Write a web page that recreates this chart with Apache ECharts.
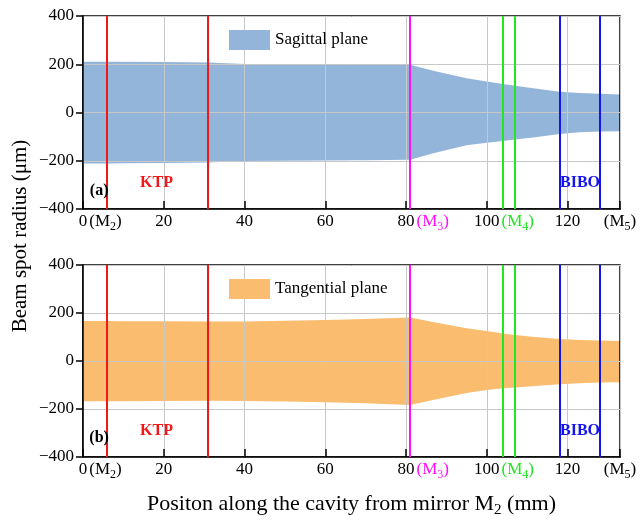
<!DOCTYPE html>
<html><head><meta charset="utf-8">
<script src="https://cdn.jsdelivr.net/npm/echarts@6/dist/echarts.min.js"></script>
<style>html,body{margin:0;padding:0;background:#fff}#c{width:640px;height:522px}</style>
</head><body><div id="c"></div>
<script>
// ---- data ----
const xPos     = [0, 6, 10, 20, 31, 40, 50, 60, 70, 81, 87, 95, 100, 104, 107, 112, 118, 123, 128, 133];
const sagUpper = [210, 210, 210, 209, 207, 201, 200, 200, 199, 198, 172, 142, 128, 118, 111, 100, 86, 81, 78, 75];
const sagLower = [-211, -211, -210, -209, -207, -201, -200, -199, -198, -196, -168, -136, -125, -118, -112, -103, -89, -82, -79, -78];
const tanUpper = [167, 167, 166, 166, 165, 165, 168, 171, 175, 181, 161, 136, 125, 115, 108, 100, 92, 88, 85, 83];
const tanLower = [-168, -168, -168, -167, -166, -167, -169, -172, -176, -183, -161, -133, -121, -114, -110, -104, -97, -93, -90, -89];
const mirrorX      = [6, 31, 81, 104, 107, 118, 128];
const mirrorGroup  = ['ktp', 'ktp', 'm3', 'm4', 'm4', 'bibo', 'bibo'];
const xTicks = [0, 20, 40, 60, 80, 100, 120];
const xMin = 0, xMax = 133, xStep = 20;
const yTicks = [-400, -200, 0, 200, 400];
const yMin = -400, yMax = 400, yStep = 200;
const seriesNames = ['Sagittal plane', 'Tangential plane'];
const panelTags = ['(a)', '(b)'];
const tagXY  = [[4.0, -323], [4.0, -321]];
const ktpXY  = [18.2, -291];
const biboXY = [123.1, -291];

// ---- style ----
const FONT = '"Liberation Serif", "Times New Roman", serif';
const fillColors = ['#93b5da', '#fabd6f'];
const lineColors = {ktp: '#f01818', m3: '#ff10ff', m4: '#22e622', bibo: '#1414ee'};
const grids = [
  {left: 83, top: 16, width: 537, height: 193, z: 3, show: true, borderColor: '#000', borderWidth: 1.5, backgroundColor: 'rgba(0,0,0,0)'},
  {left: 83, top: 265, width: 537, height: 192, z: 3, show: true, borderColor: '#000', borderWidth: 1.5, backgroundColor: 'rgba(0,0,0,0)'}
];

const subSuffix = {0: ['2', 'k'], 80: ['3', 'm'], 100: ['4', 'g']};
function xLabel(v) {
  if (Math.abs(v - xMax) < 0.01) return '{k|(M}{ks|5}{k|)}';
  const s = subSuffix[v];
  if (!s) return '{n|' + v + '}';
  const c = s[1];
  return '{hp|(M}{hs|' + s[0] + '}{h|)}{n|' + v + '}{' + c + 'p|(M}{' + c + 's|' + s[0] + '}{' + c + '|)}';
}
function richSet() {
  const r = {};
  const cols = {n: '#000', k: '#000', m: '#ff10ff', g: '#22e622', h: 'rgba(0,0,0,0)'};
  Object.keys(cols).forEach(function (k) {
    r[k] = {fontSize: 17, fontFamily: FONT, color: cols[k], lineHeight: 22};
    r[k + 'p'] = {fontSize: 17, fontFamily: FONT, color: cols[k], lineHeight: 22, padding: [0, 0, 0, 2]};
    r[k + 's'] = {fontSize: 12, fontFamily: FONT, color: cols[k], lineHeight: 12, padding: [10, 0, 0, 0]};
  });
  return r;
}
function yLabel(v) { return v < 0 ? '\u2212' + Math.abs(v) : String(v); }

const xAxes = [0, 1].map(function (i) {
  const ax = {
    type: 'value', gridIndex: i, min: xMin, max: xMax, interval: xStep, z: 3,
    axisLine: {show: true, onZero: false, lineStyle: {color: '#000', width: 1.5}},
    axisTick: {show: true, inside: true, length: 8, lineStyle: {color: '#000', width: 1.5}},
    splitLine: {show: true, lineStyle: {color: '#c8c8c8', width: 1}},
    axisLabel: {formatter: xLabel, margin: 2, color: '#000', fontSize: 17, fontFamily: FONT, rich: richSet(), showMaxLabel: true, showMinLabel: true}
  };
  if (i === 1) {
    ax.name = 'Positon along the cavity from mirror M{s|2} (mm)';
    ax.nameLocation = 'middle';
    ax.nameGap = 34;
    ax.nameTextStyle = {fontSize: 22, fontFamily: FONT, color: '#000',
      rich: {s: {fontSize: 15, fontFamily: FONT, color: '#000', padding: [12, 0, 0, 0]}}};
  }
  return ax;
});
const yAxes = [0, 1].map(function (i) {
  return {
    type: 'value', gridIndex: i, min: yMin, max: yMax, interval: yStep, z: 3,
    axisLine: {show: true, onZero: false, lineStyle: {color: '#000', width: 1.5}},
    axisTick: {show: true, inside: false, length: 7, lineStyle: {color: '#000', width: 1.5}},
    splitLine: {show: true, lineStyle: {color: '#c8c8c8', width: 1}},
    axisLabel: {formatter: yLabel, margin: 9, color: '#000', fontSize: 17, fontFamily: FONT}
  };
});

function band(i, vals) {
  return {
    type: 'line', name: seriesNames[i], xAxisIndex: i, yAxisIndex: i,
    data: xPos.map(function (x, k) { return [x, vals[k]]; }),
    showSymbol: false, symbol: 'none', silent: true, z: 2,
    lineStyle: {width: 0, color: fillColors[i]},
    itemStyle: {color: fillColors[i]},
    areaStyle: {color: fillColors[i], opacity: 1, origin: 0}
  };
}
function mirrors(i) {
  return {
    type: 'line', xAxisIndex: i, yAxisIndex: i, data: [], silent: true,
    markLine: {
      symbol: ['none', 'none'], silent: true, animation: false,
      label: {show: false},
      data: mirrorX.map(function (x, k) {
        return {xAxis: x, lineStyle: {color: lineColors[mirrorGroup[k]], width: 2, type: 'solid'}};
      })
    }
  };
}
function textSeries(i, xy, txt, color) {
  return {
    type: 'scatter', xAxisIndex: i, yAxisIndex: i, silent: true, z: 6,
    symbolSize: 0, itemStyle: {color: color, opacity: 1},
    data: [xy],
    label: {show: true, position: 'inside', formatter: txt, color: color, opacity: 1,
      textBorderWidth: 0, textShadowBlur: 0,
      fontSize: 16, fontWeight: 'bold', fontFamily: FONT}
  };
}

const series = [];
[0, 1].forEach(function (i) {
  const up = i === 0 ? sagUpper : tanUpper;
  const lo = i === 0 ? sagLower : tanLower;
  series.push(band(i, up));
  series.push(band(i, lo));
  series.push(mirrors(i));
  series.push(textSeries(i, tagXY[i], panelTags[i], '#000'));
  series.push(textSeries(i, ktpXY, 'KTP', lineColors.ktp));
  series.push(textSeries(i, biboXY, 'BIBO', lineColors.bibo));
});

const chart = echarts.init(document.getElementById('c'), null, {renderer: 'canvas'});
chart.setOption({
  animation: false,
  backgroundColor: '#fff',
  grid: grids,
  xAxis: xAxes,
  yAxis: yAxes,
  legend: [0, 1].map(function (i) {
    return {
      left: 229, top: i === 0 ? 30 : 279, padding: 0, orient: 'horizontal',
      data: [{name: seriesNames[i], icon: 'rect'}],
      itemWidth: 41, itemHeight: 20, itemGap: 5, selectedMode: false,
      textStyle: {fontSize: 17, fontFamily: FONT, color: '#000'}
    };
  }),
  graphic: [{
    type: 'text', x: 20, y: 236, rotation: Math.PI / 2,
    style: {text: 'Beam spot radius (\u03bcm)', fontSize: 21, fontFamily: FONT, fill: '#000',
      align: 'center', verticalAlign: 'middle'}
  }],
  series: series
});
</script></body></html>
